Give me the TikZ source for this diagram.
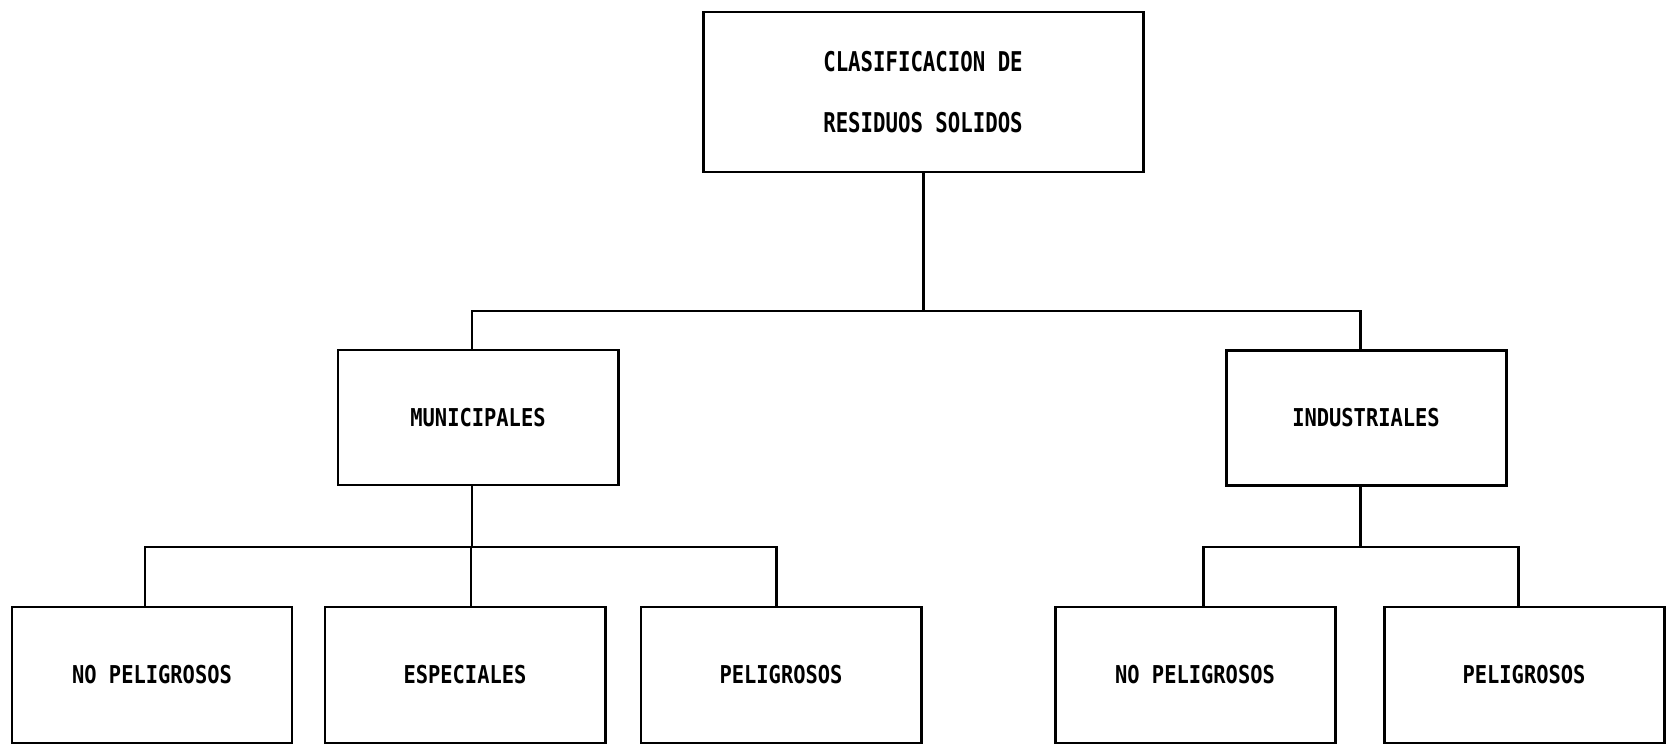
\documentclass[tikz,border=0pt]{standalone}
\usepackage{fontspec}
\newfontfamily\rootfont[FakeStretch=0.76]{DejaVu Sans Mono Bold}
\newfontfamily\boxfont[FakeStretch=0.83]{DejaVu Sans Mono Bold}
\usetikzlibrary{calc}
\tikzset{
  classbox/.style={draw, line width=1.7pt, minimum width=5.6cm, minimum height=2.72cm,
    inner sep=0pt, font=\boxfont\fontsize{14pt}{16pt}\selectfont},
  rootbox/.style={classbox, minimum width=8.8cm, minimum height=3.2cm, align=center,
    font=\rootfont\fontsize{15.5pt}{35pt}\selectfont},
  link/.style={line width=1.7pt}
}

\begin{document}
\begin{tikzpicture}
  \useasboundingbox (0,0) rectangle (33.36,-14.96);
  \node[rootbox] (root) at (18.46,-1.84) {CLASIFICACION DE\\RESIDUOS SOLIDOS};
  \node[classbox, minimum height=2.7cm] (mun) at (9.56,-8.35) {MUNICIPALES};
  \node[classbox, minimum height=2.7cm] (ind) at (27.32,-8.36) {INDUSTRIALES};
  \node[classbox] (munNP) at (3.04,-13.5) {NO PELIGROSOS};
  \node[classbox] (munES) at (9.30,-13.5) {ESPECIALES};
  \node[classbox] (munPE) at (15.62,-13.5) {PELIGROSOS};
  \node[classbox] (indNP) at (23.9,-13.5) {NO PELIGROSOS};
  \node[classbox] (indPE) at (30.48,-13.5) {PELIGROSOS};
  \coordinate (busA) at (0,-6.22);
  \coordinate (busB) at (0,-10.94);
  % drop points, slightly off the box centres as in the drawing
  \coordinate (munTop) at ($(mun.north)+(-0.12,0)$);
  \coordinate (munBot) at ($(mun.south)+(-0.12,0)$);
  \coordinate (indTop) at ($(ind.north)+(-0.12,0)$);
  \coordinate (indBot) at ($(ind.south)+(-0.12,0)$);
  \coordinate (munNPtop) at ($(munNP.north)+(-0.14,0)$);
  \coordinate (munEStop) at ($(munES.north)+(0.12,0)$);
  \coordinate (munPEtop) at ($(munPE.north)+(-0.10,0)$);
  \coordinate (indNPtop) at ($(indNP.north)+(0.16,0)$);
  \coordinate (indPEtop) at ($(indPE.north)+(-0.12,0)$);
  % first level
  \draw[link] (root.south) -- (root.south |- busA);
  \draw[link] (munTop) |- (indTop |- busA) -- (indTop);
  % second level
  \draw[link] (munBot) -- (munBot |- busB);
  \draw[link] (munNPtop) |- (munPEtop |- busB) -- (munPEtop);
  \draw[link] (munEStop) -- (munEStop |- busB);
  \draw[link] (indBot) -- (indBot |- busB);
  \draw[link] (indNPtop) |- (indPEtop |- busB) -- (indPEtop);
\end{tikzpicture}
\end{document}
